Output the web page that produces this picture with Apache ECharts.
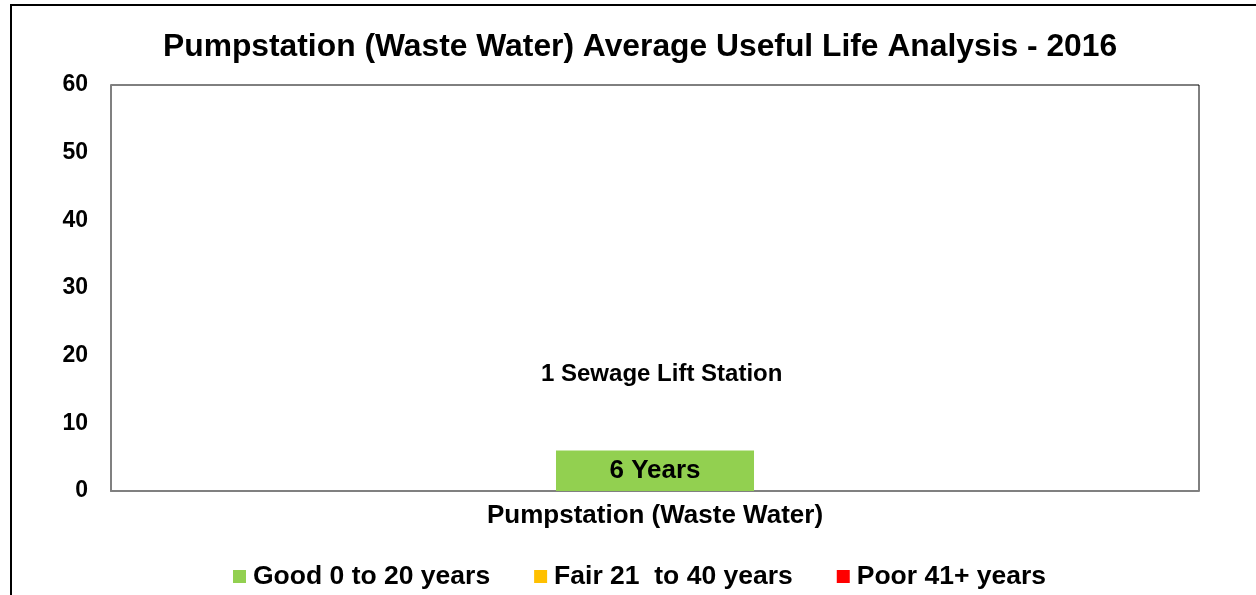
<!DOCTYPE html>
<html><head><meta charset="utf-8">
<script src="https://cdn.jsdelivr.net/npm/echarts@6/dist/echarts.min.js"></script>
<style>html,body{margin:0;padding:0;background:#fff}#c{width:1256px;height:595px}</style>
</head><body><div id="c"></div>
<script>
const categories = ['Pumpstation (Waste Water)'];
const goodValues = [6];
const fairValues = [0];
const poorValues = [0];
const seriesNames = ['Good 0 to 20 years', 'Fair 21  to 40 years', 'Poor 41+ years'];
const barLabels = ['6 Years'];
const noteText = '1 Sewage Lift Station';
const yTicks = { min: 0, max: 60, interval: 10 };

const chart = echarts.init(document.getElementById('c'));
const font = '"Liberation Sans", Arial, sans-serif';
chart.setOption({
  animation: false,
  textStyle: { fontFamily: font },
  title: {
    text: 'Pumpstation (Waste Water) Average Useful Life Analysis - 2016',
    left: 158, top: 26,
    textStyle: { fontSize: 31.8, fontWeight: 'bold', color: '#000', fontFamily: font }
  },
  graphic: [
    { type: 'rect', shape: { x: 11, y: 5, width: 1300, height: 700 }, style: { fill: 'none', stroke: '#000', lineWidth: 2 }, silent: true, z: -1 },
    { type: 'text', left: 541, top: 362, style: { text: noteText, font: 'bold 24px ' + font, fill: '#000' } }
  ],
  legend: {
    bottom: 0, left: 228, itemGap: 44, itemWidth: 13, itemHeight: 13,
    icon: 'rect',
    textStyle: { fontSize: 26.5, fontWeight: 'bold', color: '#000', fontFamily: font, padding: [0, 0, 0, 2] },
    data: seriesNames
  },
  grid: { left: 111, right: 57, top: 85, bottom: 104, show: true, borderColor: '#000', borderWidth: 1 },
  xAxis: {
    type: 'category', data: categories,
    axisLine: { lineStyle: { color: '#808080', width: 2 } },
    axisTick: { show: false },
    axisLabel: { fontSize: 26, fontWeight: 'bold', color: '#000', margin: 12, fontFamily: font }
  },
  yAxis: {
    type: 'value', min: yTicks.min, max: yTicks.max, interval: yTicks.interval,
    axisLine: { show: true, lineStyle: { color: '#808080', width: 2 } },
    axisTick: { show: false },
    splitLine: { show: false },
    axisLabel: { fontSize: 23, fontWeight: 'bold', color: '#000', margin: 23, fontFamily: font }
  },
  series: [
    { name: seriesNames[0], type: 'bar', stack: 'a', barWidth: '18.2%', data: goodValues,
      itemStyle: { color: '#92D050' },
      label: { show: true, position: 'inside', formatter: (p) => barLabels[p.dataIndex], fontSize: 26, fontWeight: 'bold', color: '#000', fontFamily: font } },
    { name: seriesNames[1], type: 'bar', stack: 'a', data: fairValues, itemStyle: { color: '#FFC000' } },
    { name: seriesNames[2], type: 'bar', stack: 'a', data: poorValues, itemStyle: { color: '#FF0000' } }
  ]
});
</script></body></html>
